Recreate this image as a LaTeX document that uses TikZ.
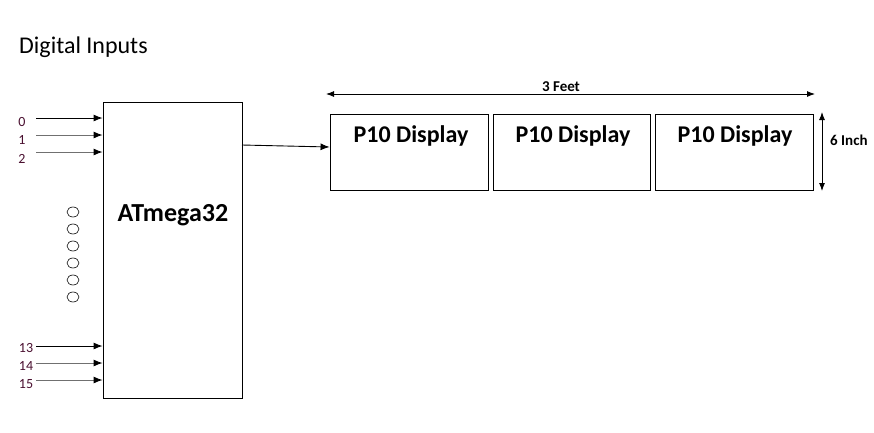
\documentclass[tikz,border=0pt]{standalone}
\usepackage{fontspec}
\setmainfont{Carlito}
\usetikzlibrary{arrows.meta}
\definecolor{numcol}{HTML}{4A1030}
\definecolor{graylin}{HTML}{707070}
\begin{document}
\begin{tikzpicture}[x=1pt,y=-1pt,
  box/.style={draw=black,line width=0.9pt,inner sep=0pt,minimum width=#1},
  big/.style={font=\fontsize{24}{26}\selectfont\bfseries,inner sep=0pt},
  num/.style={font=\fontsize{14}{15}\selectfont,text=numcol,inner sep=0pt},
  inarr/.style={line width=0.9pt,-{Latex[length=9pt,width=7pt,color=black]}},
  dimarr/.style={line width=0.9pt,{Latex[length=8pt,width=6pt]}-{Latex[length=8pt,width=6pt]}},
  dim/.style={font=\fontsize{15}{16}\selectfont\bfseries,inner sep=0pt}]
\useasboundingbox (0,0) rectangle (874,432);
% title
\node[font=\fontsize{24}{26}\selectfont,anchor=west,inner sep=0pt] (title) at (19,47) {Digital Inputs};
% ATmega box
\node[box=139pt,minimum height=296pt] (atm) at (172.5,250) {};
\node[big,font=\fontsize{26}{28}\selectfont\bfseries] (atmlbl) at (173,215) {ATmega32};
% displays
\node[box=158pt,minimum height=76pt] (d1) at (409,152) {};
\node[box=157pt,minimum height=76pt] (d2) at (571.5,152) {};
\node[box=158pt,minimum height=76pt] (d3) at (734,152) {};
\node[big] (d1l) at (411,136) {P10 Display};
\node[big] (d2l) at (573,136) {P10 Display};
\node[big] (d3l) at (735,136) {P10 Display};
% input labels and arrows
\node[num] (n0) at (22,122) {0};
\node[num] (n1) at (22,140) {1};
\node[num] (n2) at (22,159) {2};
\node[num] (n13) at (26,348) {13};
\node[num] (n14) at (26,366) {14};
\node[num] (n15) at (26,384) {15};
\coordinate (s0) at (36,118);
\coordinate (s1) at (36,135);
\coordinate (s2) at (36,152);
\coordinate (s13) at (36,346);
\coordinate (s14) at (36,363);
\coordinate (s15) at (36,380);
\draw[inarr,black] (s0) -- (s0 -| atm.west);
\draw[inarr,graylin] (s1) -- (s1 -| atm.west);
\draw[inarr,graylin] (s2) -- (s2 -| atm.west);
\draw[inarr,black] (s13) -- (s13 -| atm.west);
\draw[inarr,graylin] (s14) -- (s14 -| atm.west);
\draw[inarr,graylin] (s15) -- (s15 -| atm.west);
% circles
\foreach \yy in {212,229,246,263,280,297}
  \draw[line width=0.6pt] (73,\yy) ellipse [x radius=6pt, y radius=5pt];
% connection to displays
\coordinate (aout) at (242,145);
\draw[inarr] (aout) -- (d1.west |- 0,147);
% 3 feet dimension
\coordinate (fl) at (326,94);
\coordinate (fr) at (815,94);
\draw[dimarr] (fl) -- (fr);
\node[dim] (feet) at (561,87) {3 Feet};
% 6 inch dimension
\coordinate (it) at (822,112);
\coordinate (ib) at (822,191);
\draw[dimarr] (it) -- (ib);
\node[dim,anchor=west] (inch) at (830,140) {6 Inch};
\end{tikzpicture}
\end{document}
